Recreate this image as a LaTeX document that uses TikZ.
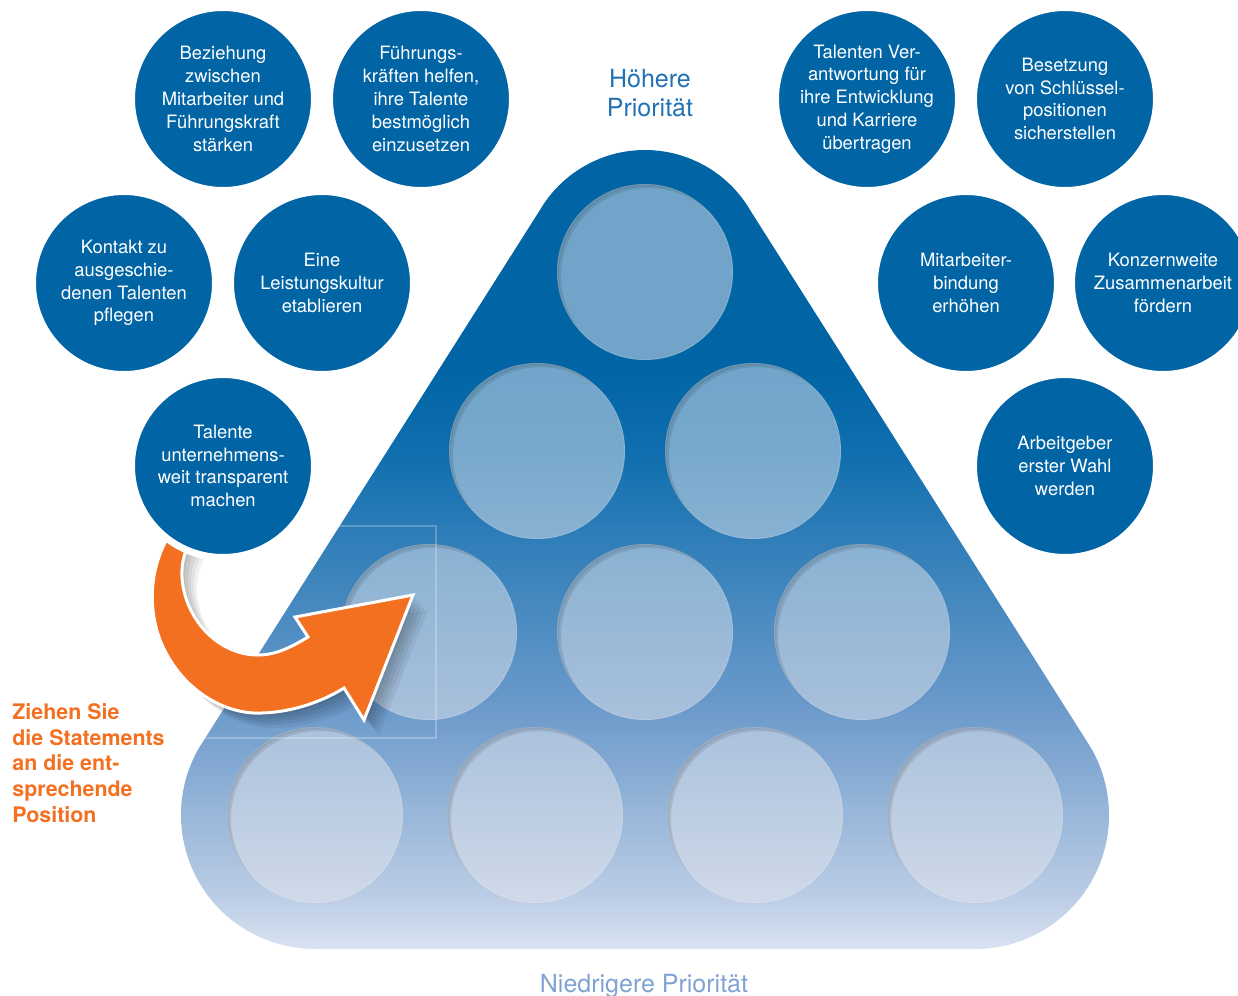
\documentclass[tikz,border=0pt]{standalone}
\usepackage{fontspec}
\setmainfont{TeX Gyre Heros}
\usetikzlibrary{calc}

\definecolor{talentblue}{HTML}{0064A5}
\definecolor{arroworange}{HTML}{F37021}
\definecolor{highblue}{HTML}{2171B5}
\definecolor{lowblue}{HTML}{7FA3D2}
\definecolor{pyrA}{HTML}{D8E3F1}
\definecolor{pyrB}{HTML}{BDCEE6}
\definecolor{pyrC}{HTML}{6D9BCB}
\definecolor{pyrD}{HTML}{2D7DB8}
\definecolor{pyrE}{HTML}{0F6EAE}
\definecolor{pyrF}{HTML}{0064A5}
\definecolor{wellgrey}{HTML}{E2E5EC}

% bottom (light) to top (dark), path box sits between 25bp and 75bp
\pgfdeclareverticalshading{pyramidfade}{100bp}{color(0bp)=(pyrA); color(25bp)=(pyrA);
  color(28bp)=(pyrB); color(39.5bp)=(pyrC); color(50.5bp)=(pyrD);
  color(55.5bp)=(pyrE); color(61bp)=(pyrF); color(100bp)=(pyrF)}

% curved arrow, tail hidden under the last statement
\newcommand{\dragarrow}{(192,508) .. controls (150,545) and (145,600) .. (160,640)
  .. controls (180,690) and (225,715) .. (262,713)
  .. controls (295,712) and (325,700) .. (344,688)
  -- (364,720) -- (413,595) -- (295,617) -- (308,637)
  .. controls (290,648) and (275,655) .. (258,655)
  .. controls (225,655) and (195,630) .. (185,595)
  .. controls (178,570) and (182,545) .. (205,522) -- cycle}

\begin{document}
\begin{tikzpicture}[x=0.5pt, y=-0.5pt,
  stmt/.style={circle, fill=talentblue, draw=white, line width=3.5pt,
    minimum size=91.5pt, inner sep=0pt, align=center, text=white,
    font=\fontsize{9.2}{11.4}\selectfont},
  prio/.style={align=center, inner sep=0pt, font=\fontsize{12.5}{14.2}\selectfont},
  wellfill/.style={fill=wellgrey, fill opacity=.5}]
\useasboundingbox (0,0) rectangle (1238,996);

% pyramid
\coordinate (apex) at (645,272);
\coordinate (baseL) at (315,815);
\coordinate (baseR) at (975,815);
\shade[shading=pyramidfade] ($(apex)+(30:61pt)$) arc[start angle=30, end angle=150, radius=61pt]
  -- ($(baseL)+(150:67pt)$) arc[start angle=150, end angle=270, radius=67pt]
  -- ($(baseR)+(270:67pt)$) arc[start angle=270, end angle=390, radius=67pt] -- cycle;

% empty slots
\foreach \x/\y [count=\i] in {645/272, 537/451, 753/451, 429/632, 645/632, 862/632,
    315/815, 535/815, 755/815, 975/815} {
  \coordinate (slot\i) at (\x,\y);
  \fill[wellfill] (slot\i) circle (44pt);
  \begin{scope}
    \clip (slot\i) circle (44pt);
    \draw[black, opacity=.10, line width=8pt] ($(slot\i)+(2pt,-2pt)$) circle (48pt);
    \draw[black, opacity=.07, line width=4pt] ($(slot\i)+(1pt,-1pt)$) circle (46pt);
    \draw[white, opacity=.12, line width=1pt] (slot\i) circle (44pt);
  \end{scope}
}

\draw[white, opacity=.25, line width=.6pt] (150,526) rectangle (436,738);

% arrow with soft shadow
\foreach \s in {3,6,9,12,15}
  \fill[black, opacity=.06, shift={(\s,\s)}] \dragarrow;
\fill[arroworange, draw=white, line width=1.5pt, line join=miter] \dragarrow;

% statements, left
\node[stmt] (beziehung) at (223,99) {Beziehung\\zwischen\\Mitarbeiter und\\Führungskraft\\stärken};
\node[stmt] (fuehrung) at (421,99) {Führungs-\\kräften helfen,\\ihre Talente\\bestmöglich\\einzusetzen};
\node[stmt] (kontakt) at (124,283) {Kontakt zu\\ausgeschie-\\denen Talenten\\pflegen};
\node[stmt] (leistung) at (322,283) {Eine\\Leistungskultur\\etablieren};
\node[stmt] (transparenz) at (223,466) {Talente\\unternehmens-\\weit transparent\\machen};

% statements, right
\node[stmt] (verantwortung) at (867,99) {Talenten Ver-\\antwortung für\\ihre Entwicklung\\und Karriere\\übertragen};
\node[stmt] (besetzung) at (1065,99) {Besetzung\\von Schlüssel-\\positionen\\sicherstellen};
\node[stmt] (bindung) at (966,283) {Mitarbeiter-\\bindung\\erhöhen};
\node[stmt] (konzern) at (1163,283) {Konzernweite\\Zusammenarbeit\\fördern};
\node[stmt] (arbeitgeber) at (1065,466) {Arbeitgeber\\erster Wahl\\werden};

% labels
\node[prio, text=highblue] (hoch) at (650,93) {Höhere\\Priorität};
\node[prio, text=lowblue, anchor=base] (niedrig) at (644,992) {Niedrigere Priorität};
\node[anchor=north west, align=left, inner sep=0pt, text=arroworange,
  font=\bfseries\fontsize{10.7}{12.9}\selectfont] (hinweis) at (12,703)
  {Ziehen Sie\\die Statements\\an die ent-\\sprechende\\Position};

\end{tikzpicture}
\end{document}
